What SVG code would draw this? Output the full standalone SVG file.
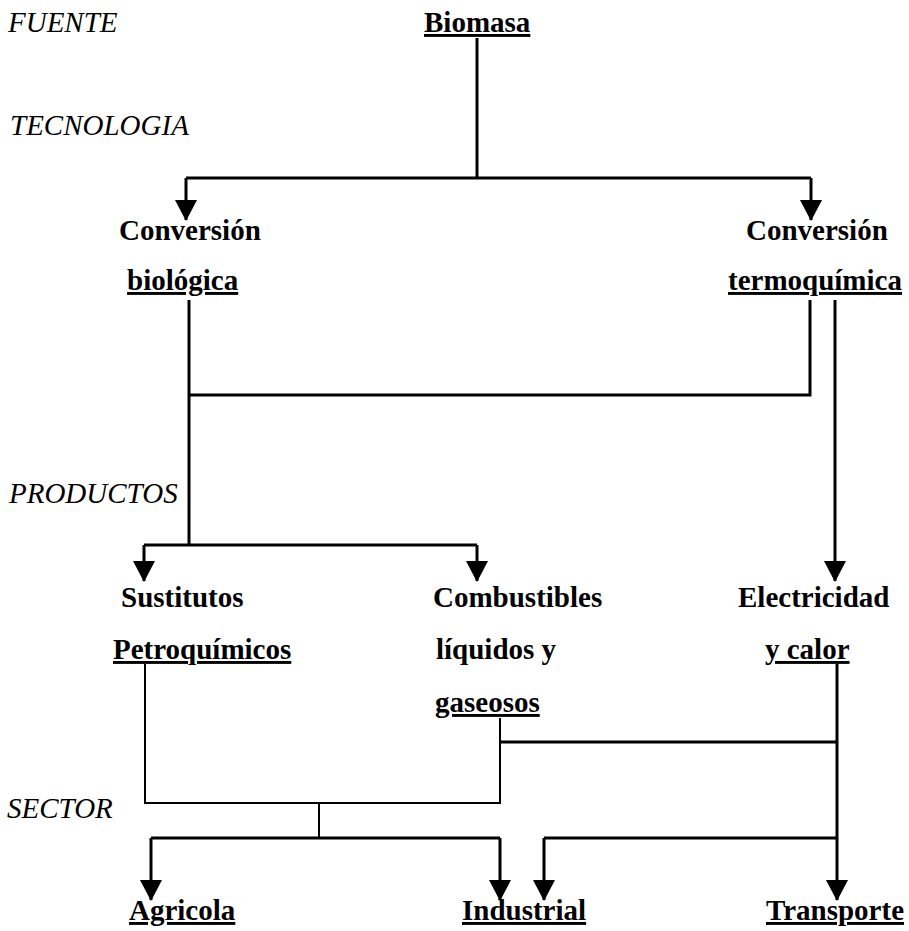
<svg xmlns="http://www.w3.org/2000/svg" width="909" height="931" viewBox="0 0 909 931">
<style>
text{font-family:"Liberation Serif","Times New Roman",serif;font-size:29px;fill:#000}
.lab{font-style:italic}
.n{font-weight:bold}
.u{text-decoration:underline}
.c{fill:none;stroke:#000;stroke-width:3}
.t{stroke-width:2}
</style>
<defs>
<marker id="ah" markerUnits="userSpaceOnUse" markerWidth="24" markerHeight="22" refX="12" refY="20" orient="0" viewBox="0 0 24 22">
<path d="M1,0 L23,0 L12,21 Z" fill="#000"/>
</marker>
</defs>
<rect width="909" height="931" fill="#fff"/>
<g id="labels">
<text class="lab" x="8" y="32">FUENTE</text>
<text class="lab" x="10" y="135">TECNOLOGIA</text>
<text class="lab" x="9" y="503">PRODUCTOS</text>
<text class="lab" x="7" y="818">SECTOR</text>
</g>
<g id="biomasa"><text class="n u" x="424" y="32">Biomasa</text></g>
<g id="conv-bio"><text class="n" x="119" y="240">Conversión</text><text class="n u" x="127" y="290">biológica</text></g>
<g id="conv-termo"><text class="n" x="746" y="240">Conversión</text><text class="n u" x="728" y="290">termoquímica</text></g>
<g id="sustitutos"><text class="n" x="121" y="607">Sustitutos</text><text class="n u" x="113" y="659">Petroquímicos</text></g>
<g id="combustibles"><text class="n" x="433" y="607">Combustibles</text><text class="n" x="436" y="659">líquidos y</text><text class="n u" x="435" y="712">gaseosos</text></g>
<g id="electricidad"><text class="n" x="738" y="607">Electricidad</text><text class="n u" x="765" y="659">y calor</text></g>
<g id="agricola"><text class="n u" x="129" y="920">Agricola</text></g>
<g id="industrial"><text class="n u" x="462" y="920">Industrial</text></g>
<g id="transporte"><text class="n u" x="766" y="920">Transporte</text></g>
<g id="connectors">
<path class="c" d="M477,38 V178"/>
<path class="c" d="M186,178 H811"/>
<path class="c" d="M186,178 V220" marker-end="url(#ah)"/>
<path class="c" d="M811,178 V220" marker-end="url(#ah)"/>
<path class="c" d="M189,300 V545"/>
<path class="c" d="M189,395 H810 V300"/>
<path class="c" d="M835,300 V581" marker-end="url(#ah)"/>
<path class="c" d="M144,545 H477"/>
<path class="c" d="M144,545 V581" marker-end="url(#ah)"/>
<path class="c" d="M477,545 V581" marker-end="url(#ah)"/>
<path class="c t" d="M145,664 V803 H500 V718"/>
<path class="c" d="M500,742 H837"/>
<path class="c" d="M837,664 V900" marker-end="url(#ah)"/>
<path class="c t" d="M319,803 V838"/>
<path class="c" d="M151,838 H500"/>
<path class="c" d="M151,838 V900" marker-end="url(#ah)"/>
<path class="c" d="M500,838 V900" marker-end="url(#ah)"/>
<path class="c" d="M544,838 H837"/>
<path class="c" d="M544,838 V900" marker-end="url(#ah)"/>
</g>
</svg>
